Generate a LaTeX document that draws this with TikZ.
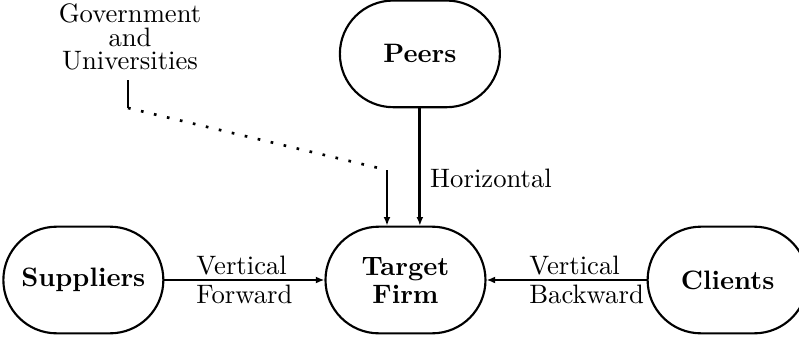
\documentclass[tikz,border=0pt]{standalone}
\usepackage{tikz}
\usetikzlibrary{positioning,shapes,arrows.meta}
\def\dx{60pt}
\def\dy{44pt}
\tikzstyle{actor}=[draw,rectangle,rounded corners=20pt,minimum width=60pt,minimum height=40pt,font=\bfseries,align=center]
\tikzstyle{link}=[line width=1.1pt,->]
\tikzstyle{tag}=[align=left]
\newcommand{\newActor}[4]{\node[actor,#3](#1)[#4]{#2};}
\newcommand{\newLink}[4]{\path[link] (#1) edge node[tag,#4] {#3} (#2);}
\begin{document}
\begin{tikzpicture}[x=0.375pt,y=-0.375pt,node distance=\dy and \dx,
    >={Latex[length=3.2pt,width=2.6pt]},
    thick  %thick, semithick
    ]
    \useasboundingbox (-405.5,-280) rectangle (393.5,61);
    \newActor{T}{Target\\[-1.5pt]Firm}{}{}
    \newActor{S}{Suppliers}{}{left=of T}
    \newActor{C}{Clients}{}{right=of T}
    \newActor{P}{Peers}{}{above=of T,xshift=5.4pt}
    \node[align=center](G) at (-275.5,-243) {Government\\[-3.2pt]and\\[-3.2pt]Universities};
    \coordinate (g1) at (-277.5,-172);
    \coordinate (g2) at (-18.5,-110);
    \newLink{S}{T}{Vertical\\[-1pt]Forward}{}
    \newLink{C}{T}{Vertical\\[-1pt]Backward}{pos=0.375}
    \newLink{P}{P |- T.north}{Horizontal}{right,pos=0.6}
    % government and universities
    \draw (G.south -| g1) -- (g1);
    \draw[loosely dotted,line width=1pt] (g1) -- (g2);
    \draw[link] (g2) -- (g2 |- T.north);
  \end{tikzpicture}
\end{document}
